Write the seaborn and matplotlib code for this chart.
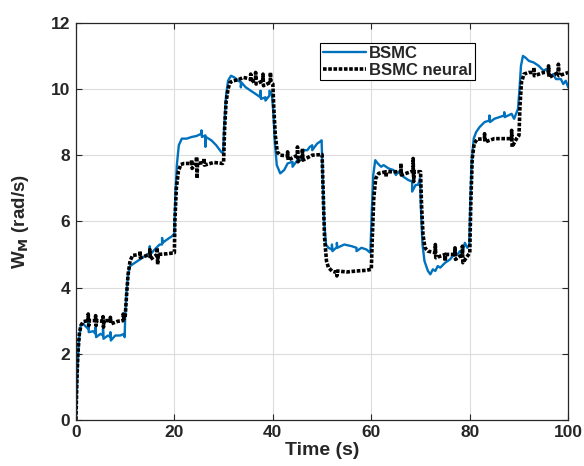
import matplotlib
matplotlib.use("Agg")
import matplotlib.pyplot as plt
import seaborn as sns
import pandas as pd

# BSMC neural (black dotted)
t_neural = [0, 0.2, 0.4, 0.7, 1.0, 1.5, 2.5, 2.5, 2.6, 2.7, 4.0, 4.0, 4.1, 4.2, 5.5, 5.5, 5.6, 5.7, 7.0, 7.0, 7.1, 8.5, 9.6, 9.6, 9.8,
            10.0, 10.3, 10.6, 11.0, 11.5, 13.0, 13.0, 13.1, 15.0, 15.0, 15.1, 16.5, 16.5, 16.6, 16.7, 18.5,
            20.0, 20.1, 20.4, 20.8, 21.3, 22, 23.5, 23.5, 23.6, 24.5, 24.5, 24.6, 24.7, 26, 26, 26.1, 28, 29.8,
            30.0, 30.2, 30.5, 30.9, 31.3, 32, 33, 34, 35.5, 35.5, 35.6, 36.5, 36.5, 36.6, 38, 38, 38.1, 39.5, 39.5, 39.6,
            40, 40.2, 40.5, 40.9, 41.5, 43, 43, 43.1, 45, 45, 45.1, 46, 46, 46.1, 48,
            50, 50.2, 50.5, 50.9, 51.3, 52, 53, 53, 53.1, 55, 57, 59,
            60, 60.2, 60.5, 60.9, 61.5, 63, 63, 63.1, 65, 66, 66, 66.1, 68, 68.5, 68.5, 68.6, 68.7,
            70, 70.2, 70.5, 70.9, 71.5, 73, 73, 73.1, 75, 75, 75.1, 77, 77, 77.1, 78.5, 78.5, 78.6,
            80, 80.2, 80.5, 80.9, 81.5, 83, 83, 83.1, 85, 87, 88.5, 88.5, 88.6, 89.5,
            90, 90.2, 90.5, 91, 92, 93, 93, 93.1, 95, 96, 96, 96.1, 98, 98, 98.1, 100]
w_neural = [0, 1.2, 2.0, 2.6, 2.85, 2.97, 3.0, 3.2, 2.85, 3.0, 3.0, 3.15, 2.85, 3.0, 2.98, 3.12, 2.8, 3.0, 3.0, 3.1, 2.9, 2.98, 3.0, 3.2, 3.05,
            3.1, 3.8, 4.4, 4.8, 4.97, 5.0, 5.1, 4.9, 5.0, 5.15, 4.85, 5.0, 5.2, 4.7, 5.0, 5.02,
            5.05, 6.0, 7.0, 7.5, 7.72, 7.75, 7.75, 7.85, 7.6, 7.77, 7.95, 7.3, 7.75, 7.78, 7.9, 7.7, 7.78, 7.75,
            7.8, 8.8, 9.6, 10.0, 10.2, 10.25, 10.28, 10.35, 10.3, 10.45, 10.2, 10.3, 10.5, 10.15, 10.25, 10.45, 10.1, 10.2, 10.5, 10.2,
            10.15, 9.4, 8.6, 8.1, 8.0, 7.98, 8.1, 7.85, 8.0, 8.25, 7.8, 7.98, 8.2, 7.85, 8.0,
            8.02, 7.0, 5.5, 4.8, 4.6, 4.5, 4.45, 4.35, 4.5, 4.47, 4.5, 4.52,
            4.55, 5.5, 6.7, 7.3, 7.45, 7.5, 7.35, 7.5, 7.5, 7.5, 7.75, 7.4, 7.5, 7.5, 7.9, 7.2, 7.5,
            7.5, 6.5, 5.6, 5.2, 5.1, 5.05, 5.3, 4.9, 5.0, 4.8, 5.0, 5.0, 5.2, 4.85, 5.0, 5.25, 4.75,
            5.05, 6.5, 7.9, 8.35, 8.48, 8.5, 8.65, 8.4, 8.5, 8.5, 8.5, 8.75, 8.25, 8.5,
            8.6, 9.5, 10.2, 10.45, 10.5, 10.5, 10.65, 10.4, 10.5, 10.5, 10.7, 10.35, 10.5, 10.75, 10.4, 10.5]

# BSMC (blue solid)
t_bsmc = [0, 0.3, 0.6, 1.0, 1.5, 2.0, 2.5, 2.5, 2.6, 3.5, 4.0, 4.0, 4.1, 5.0, 5.5, 5.5, 5.6, 6.5, 7.0, 7.0, 7.1, 8.0, 9.0, 9.8, 9.9,
          10.0, 10.3, 10.6, 11.0, 12, 13, 14, 15, 15, 15.1, 16, 17, 17.5, 17.5, 17.6, 18.5, 19.5,
          20, 20.2, 20.5, 20.9, 21.5, 22.5, 23.5, 24.5, 25.5, 25.5, 25.6, 26.3, 26.3, 26.4, 27.5, 28.5, 29.5, 29.9,
          30.1, 30.5, 30.9, 31.5, 32.2, 33, 33.5, 33.5, 33.6, 34.5, 35.5, 36.5, 37.5, 37.5, 37.6, 38.5, 38.5, 39.3, 39.3, 39.8,
          40.1, 40.4, 40.8, 41.5, 42.3, 43, 44, 44, 45, 45.5, 46, 46, 47, 47.5, 48, 48, 49, 49.5, 49.9,
          50.1, 50.4, 50.8, 51.3, 52, 52, 52.1, 53, 53, 53.1, 54.5, 56, 57, 57, 58, 59, 59.8,
          60.1, 60.4, 60.8, 61.3, 62, 62.5, 63.5, 64.5, 65, 65.5, 66.5, 67.5, 68.3, 68.3, 69, 69.5, 69.9,
          70.1, 70.4, 70.8, 71.5, 72, 72.5, 73, 73.5, 74, 75, 76, 76.5, 77.5, 78, 78.5, 79, 79.5, 79.9,
          80.1, 80.4, 80.8, 81.3, 82, 83, 84, 84, 84.1, 85, 86, 87, 87, 87.1, 88.5, 89, 89.8,
          90.1, 90.4, 90.8, 91.3, 92, 93, 94, 95, 95.5, 96.5, 97, 97.5, 98.5, 99, 99.5, 100]
w_bsmc = [0, 1.5, 2.4, 2.85, 2.9, 2.82, 2.75, 2.95, 2.65, 2.68, 2.6, 2.8, 2.5, 2.6, 2.55, 2.75, 2.45, 2.55, 2.5, 2.65, 2.4, 2.55, 2.55, 2.6, 2.5,
          3.1, 3.9, 4.4, 4.65, 4.75, 4.85, 4.95, 5.05, 5.25, 5.0, 5.15, 5.3, 5.3, 5.5, 5.35, 5.45, 5.55,
          5.62, 6.8, 7.7, 8.3, 8.5, 8.5, 8.55, 8.58, 8.65, 8.75, 8.55, 8.6, 8.25, 8.55, 8.45, 8.3, 8.1, 8.05,
          8.8, 9.8, 10.25, 10.4, 10.35, 10.25, 10.2, 10.05, 10.2, 10.05, 9.95, 9.85, 9.75, 9.95, 9.7, 9.75, 9.65, 9.8, 9.95, 9.85,
          9.3, 8.4, 7.7, 7.45, 7.55, 7.75, 7.8, 7.65, 7.85, 7.85, 8.0, 8.15, 8.15, 8.25, 8.3, 8.15, 8.35, 8.4, 8.45,
          7.5, 6.0, 5.3, 5.2, 5.15, 5.3, 5.1, 5.22, 5.35, 5.2, 5.3, 5.25, 5.2, 5.1, 5.2, 5.15, 5.05,
          6.3, 7.4, 7.85, 7.75, 7.65, 7.7, 7.6, 7.55, 7.4, 7.5, 7.35, 7.25, 7.2, 6.9, 7.1, 7.1, 7.3,
          6.3, 5.3, 4.8, 4.5, 4.4, 4.55, 4.5, 4.65, 4.6, 4.75, 4.85, 4.95, 5.0, 5.1, 5.05, 5.35, 5.2, 5.3,
          6.5, 7.8, 8.5, 8.7, 8.85, 9.0, 9.05, 9.2, 9.0, 9.1, 9.15, 9.2, 9.3, 9.15, 9.25, 9.1, 9.4,
          10.0, 10.7, 11.0, 10.95, 10.85, 10.8, 10.7, 10.55, 10.6, 10.4, 10.45, 10.3, 10.3, 10.15, 10.25, 10.05]

x_ticks = [0, 20, 40, 60, 80, 100]
y_ticks = [0, 2, 4, 6, 8, 10, 12]

sns.set_style("whitegrid")
plt.rcParams['font.family'] = ['Liberation Sans', 'DejaVu Sans']
plt.rcParams['font.weight'] = 'bold'

fig = plt.figure(figsize=(5.84, 4.66), dpi=100)
ax = fig.add_axes([0.130, 0.099, 0.843, 0.852])

df_b = pd.DataFrame({"t": t_bsmc, "w": w_bsmc})
df_n = pd.DataFrame({"t": t_neural, "w": w_neural})

sns.lineplot(data=df_b, x="t", y="w", estimator=None, sort=False, ax=ax,
             color="#0072BD", linewidth=1.7, label="BSMC")
sns.lineplot(data=df_n, x="t", y="w", estimator=None, sort=False, ax=ax,
             color="black", linewidth=2.6, linestyle=(0, (1, 0.45)), label="BSMC neural")

ax.set_xlim(0, 100)
ax.set_ylim(0, 12)
ax.set_xticks(x_ticks)
ax.set_yticks(y_ticks)
ax.set_xticklabels([str(v) for v in x_ticks], fontsize=12.5, fontweight='bold', color="#262626")
ax.set_yticklabels([str(v) for v in y_ticks], fontsize=12.5, fontweight='bold', color="#262626")
ax.grid(True, color="#dcdcdc", linewidth=0.8)
for s in ax.spines.values():
    s.set_visible(True)
    s.set_color("#262626")
    s.set_linewidth(0.9)
ax.tick_params(direction='in', length=4, width=0.8, color="#262626",
               top=True, right=True, bottom=True, left=True, pad=4)
ax.set_xlabel("Time (s)", fontsize=14, fontweight='bold', labelpad=1, color="#262626")
ax.set_ylabel(r"W$_{\mathbf{M}}$ (rad/s)", fontsize=13.5, fontweight='bold', labelpad=14, color="#262626")

leg = ax.legend(loc="upper left", bbox_to_anchor=(0.496, 0.948), fontsize=12,
                frameon=True, fancybox=False, framealpha=1, borderpad=0.15,
                handlelength=2.6, handletextpad=0.2, labelspacing=0.1, borderaxespad=0)
leg.get_frame().set_edgecolor("black")
leg.get_frame().set_linewidth(0.8)
for txt in leg.get_texts():
    txt.set_fontweight('bold')
    txt.set_color("#262626")

fig.savefig("out.png", dpi=100)
